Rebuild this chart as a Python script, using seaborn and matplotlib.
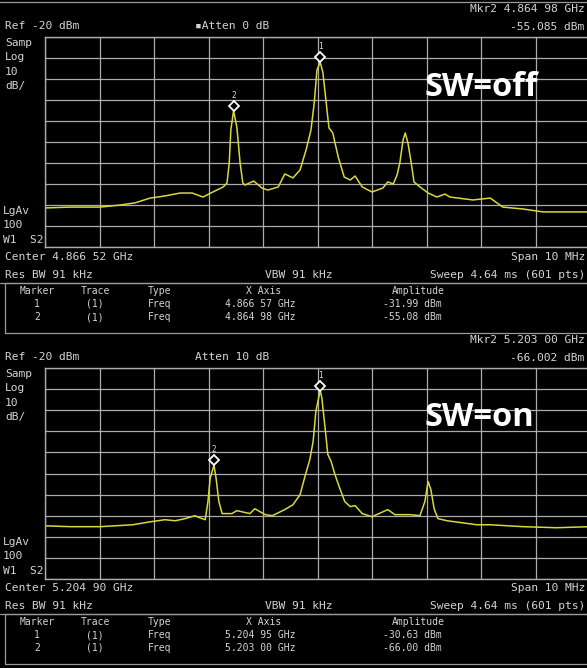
import numpy as np
import pandas as pd
import matplotlib
matplotlib.use('Agg')
import matplotlib.pyplot as plt
import matplotlib.transforms as mtrans
from matplotlib.lines import Line2D
from matplotlib.patches import Rectangle
import seaborn as sns

# trace, offset from center in MHz / amplitude in dBm
off_freq_mhz = [-5.00, -4.54, -3.99, -3.62, -3.35, -3.07, -2.80, -2.52, -2.30, -2.10,
                -1.92, -1.73, -1.66, -1.62, -1.59, -1.54, -1.48, -1.42, -1.37, -1.33,
                -1.17, -1.02, -0.91, -0.72, -0.60, -0.45, -0.32, -0.21, -0.12, -0.06,
                -0.01, 0.05, 0.10, 0.16, 0.21, 0.28, 0.38, 0.49, 0.60, 0.69,
                0.82, 1.00, 1.20, 1.29, 1.39, 1.46, 1.51, 1.57, 1.61, 1.66,
                1.72, 1.77, 1.88, 2.03, 2.19, 2.34, 2.43, 2.85, 3.17, 3.40,
                3.77, 4.14, 4.45, 5.00]
off_dbm = [-101.4, -101.0, -101.0, -100.0, -99.0, -96.7, -95.7, -94.3, -94.3, -96.2,
           -93.8, -91.4, -89.5, -80.0, -64.3, -55.1, -62.9, -80.0, -89.5, -90.5,
           -88.6, -91.9, -92.9, -91.4, -85.2, -87.1, -83.3, -73.8, -64.3, -51.4,
           -35.7, -32.0, -37.1, -51.4, -63.3, -65.7, -77.1, -86.7, -88.1, -86.2,
           -91.4, -93.8, -91.9, -89.0, -90.0, -85.7, -80.0, -69.0, -65.7, -70.5,
           -80.0, -89.0, -91.4, -94.3, -96.2, -94.8, -96.2, -97.6, -96.7, -101.0,
           -101.9, -103.3, -103.3, -103.3]

on_freq_mhz = [-5.00, -4.54, -3.99, -3.39, -3.07, -2.80, -2.61, -2.43, -2.25, -2.16,
               -2.06, -2.01, -1.97, -1.90, -1.86, -1.81, -1.75, -1.57, -1.48, -1.24,
               -1.15, -0.96, -0.83, -0.60, -0.45, -0.32, -0.23, -0.14, -0.08, -0.03,
               0.05, 0.08, 0.14, 0.19, 0.25, 0.32, 0.41, 0.50, 0.60, 0.69,
               0.82, 1.00, 1.29, 1.42, 1.70, 1.88, 1.97, 2.03, 2.08, 2.14,
               2.21, 2.38, 2.93, 3.17, 3.77, 4.39, 5.00]
on_dbm = [-94.8, -95.2, -95.2, -94.3, -92.9, -91.9, -92.4, -91.4, -90.0, -91.0,
          -91.9, -83.3, -72.4, -66.0, -72.4, -83.3, -89.0, -89.0, -87.6, -89.0,
          -86.7, -89.5, -90.0, -87.1, -84.8, -80.0, -71.4, -63.3, -54.8, -40.5,
          -30.6, -34.3, -48.6, -61.0, -64.3, -70.5, -77.1, -83.3, -85.7, -85.2,
          -89.0, -90.5, -87.1, -89.5, -89.5, -90.0, -83.3, -73.8, -77.6, -86.7,
          -91.4, -92.4, -94.3, -94.3, -95.2, -95.7, -95.2]

# instrument settings / marker table
centers_ghz = [4.86652, 5.20490]
center_labels = ['Center 4.866 52 GHz', 'Center 5.204 90 GHz']
atten_labels = ['\u25aaAtten 0 dB', 'Atten 10 dB']
mkr_freq_ghz = [[4.86657, 4.86498], [5.20495, 5.20300]]
mkr_amp = [[-31.99, -55.08], [-30.63, -66.00]]
mkr_freq_txt = [['4.866 57 GHz', '4.864 98 GHz'], ['5.204 95 GHz', '5.203 00 GHz']]
mkr_amp_txt = [['-31.99 dBm', '-55.08 dBm'], ['-30.63 dBm', '-66.00 dBm']]
mkr2_head = [['Mkr2 4.864 98 GHz', '-55.085 dBm'], ['Mkr2 5.203 00 GHz', '-66.002 dBm']]
sw_labels = ['SW=off', 'SW=on']

W, H = 587, 668
sns.set_theme(style='dark')
plt.rcParams['font.family'] = ['DejaVu Sans Mono', 'DejaVu Sans']

fig = plt.figure(figsize=(W / 100, H / 100), dpi=100, facecolor='black')

TXT = '#d4d4d4'
GRID = '#acacac'
TRACE = '#d8d83c'


def txt(x, y, s, size=8.1, ha='left', color=TXT, **kw):
    fig.text(x / W, 1 - y / H, s, ha=ha, va='center', fontsize=size, color=color, **kw)


def hline(y, x0=0, x1=W, lw=0.9, color='#9a9a9a'):
    fig.add_artist(Line2D([x0 / W, x1 / W], [1 - y / H, 1 - y / H],
                          transform=fig.transFigure, color=color, lw=lw))


traces = [pd.DataFrame({'freq': off_freq_mhz, 'dbm': off_dbm}),
          pd.DataFrame({'freq': on_freq_mhz, 'dbm': on_dbm})]

hline(2)
for i in range(2):
    dy = 0 if i == 0 else 331
    gtop = 37 + dy
    gh = 210 if i == 0 else 211
    ax = fig.add_axes([45 / W, 1 - (gtop + gh) / H, 545 / W, gh / H])
    ax.set_facecolor('black')
    sns.lineplot(data=traces[i], x='freq', y='dbm', ax=ax, color=TRACE, lw=1.1,
                 estimator=None, sort=False)
    ax.set_xlim(-5, 5)
    ax.set_ylim(-120, -20)
    ax.set_xticks(np.linspace(-5, 5, 11))
    ax.set_yticks(np.arange(-120, -19, 10))
    ax.set_xticklabels([])
    ax.set_yticklabels([])
    ax.set_xlabel('')
    ax.set_ylabel('')
    ax.tick_params(length=0)
    ax.grid(True, color=GRID, lw=0.9)
    for sp in ax.spines.values():
        sp.set_color(GRID)
        sp.set_linewidth(1.0)

    # markers
    up = mtrans.offset_copy(ax.transData, fig=fig, y=3.5, units='points')
    for k in range(2):
        fo = (mkr_freq_ghz[i][k] - centers_ghz[i]) * 1000
        ax.plot(fo, mkr_amp[i][k], marker='D', ms=5, mfc='black', mec='white',
                mew=1.3, transform=up, clip_on=False)
        ax.annotate(str(k + 1), (fo, mkr_amp[i][k]), xytext=(0, 11),
                    textcoords='offset points', ha='center', va='center',
                    fontsize=5.5, color='#e0e0e0')

    # header and side labels
    txt(585, 9 + dy, mkr2_head[i][0], ha='right')
    txt(584, 27 + dy, mkr2_head[i][1], ha='right')
    txt(5, 26 + dy, 'Ref -20 dBm')
    txt(195, 26 + dy, atten_labels[i])
    for s, yy in zip(['Samp', 'Log', '10', 'dB/'], [43, 57, 72, 86]):
        txt(5, yy + dy, s)
    for s, yy in zip(['LgAv', '100', 'W1  S2'], [211, 225, 240]):
        txt(3, yy + dy, s)
    txt(5, 257 + dy, center_labels[i])
    txt(585, 257 + dy, 'Span 10 MHz', ha='right')
    txt(5, 275 + dy, 'Res BW 91 kHz')
    txt(265, 275 + dy, 'VBW 91 kHz')
    txt(585, 275 + dy, 'Sweep 4.64 ms (601 pts)', ha='right')

    # marker table
    hline(283 + dy, 0, W)
    fig.add_artist(Rectangle((5 / W, 1 - (333 + dy) / H), (W + 10) / W, 50 / H,
                             transform=fig.transFigure, fill=False,
                             ec='#9a9a9a', lw=0.9))
    ts = 7.0
    txt(37, 291 + dy, 'Marker', size=ts, ha='center')
    txt(95, 291 + dy, 'Trace', size=ts, ha='center')
    txt(148, 291 + dy, 'Type', size=ts)
    txt(264, 291 + dy, 'X Axis', size=ts, ha='center')
    txt(418, 291 + dy, 'Amplitude', size=ts, ha='center')
    for k, yy in enumerate([304, 317]):
        txt(37, yy + dy, str(k + 1), size=ts, ha='center')
        txt(95, yy + dy, '(1)', size=ts, ha='center')
        txt(148, yy + dy, 'Freq', size=ts)
        txt(296, yy + dy, mkr_freq_txt[i][k], size=ts, ha='right')
        txt(442, yy + dy, mkr_amp_txt[i][k], size=ts, ha='right')

    # annotation on the screenshot
    fig.text(424 / W, 1 - (87 + dy) / H, sw_labels[i], ha='left', va='center',
             fontsize=23.5, color='white', fontweight='bold', family='Open Sans')

fig.savefig('out.png', dpi=100, facecolor='black')
